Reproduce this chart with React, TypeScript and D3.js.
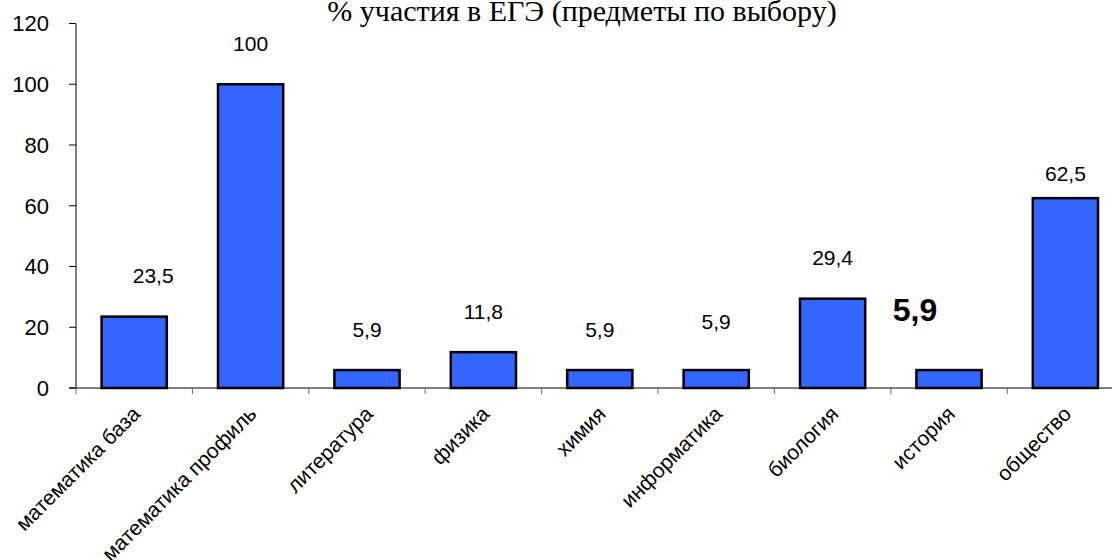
import * as d3 from "d3";

const categories = [
  "математика база",
  "математика профиль",
  "литература",
  "физика",
  "химия",
  "информатика",
  "биология",
  "история",
  "общество",
];
const values = [23.5, 100, 5.9, 11.8, 5.9, 5.9, 29.4, 5.9, 62.5];
const valueLabels = ["23,5", "100", "5,9", "11,8", "5,9", "5,9", "29,4", "5,9", "62,5"];
const yTicks = [0, 20, 40, 60, 80, 100, 120];
const title = "% участия в ЕГЭ (предметы по выбору)";

const width = 1112;
const height = 560;
const margin = { top: 23.5, left: 76, bottom: 388 };

// hand placed labels in the original: shifts away from the usual spot
const labelLift: Record<string, number> = { информатика: 8, история: 20, общество: -16 };
const labelShift: Record<string, number> = { "математика база": 19, история: -34 };

const App = () => {
  const step = 116.4;
  const xScale = d3
    .scaleBand<string>()
    .domain(categories)
    .range([margin.left, margin.left + step * categories.length])
    .paddingInner(0.44)
    .paddingOuter(0.22);
  const yScale = d3.scaleLinear().domain([0, 120]).range([margin.bottom, margin.top]);

  const font = "Arial, 'Liberation Sans', sans-serif";
  const boundaries = d3.range(categories.length + 1).map((i) => margin.left + i * xScale.step());

  return (
    <svg
      width={width}
      height={height}
      style={{ position: "absolute", left: 0, top: 0, background: "#fff" }}
    >
      <text
        x={582}
        y={21}
        textAnchor="middle"
        fontFamily="'Liberation Serif', 'Times New Roman', serif"
        fontSize={30}
      >
        {title}
      </text>

      {/* y axis */}
      <line x1={margin.left} x2={margin.left} y1={yScale(120)} y2={yScale(0)} stroke="#000" />
      {yTicks.map((t) => (
        <g key={t}>
          <line x1={margin.left - 7} x2={margin.left} y1={yScale(t)} y2={yScale(t)} stroke="#000" />
          <text
            x={49}
            y={yScale(t)}
            dy="0.36em"
            textAnchor="end"
            fontFamily={font}
            fontSize={22}
          >
            {t}
          </text>
        </g>
      ))}

      {/* bars */}
      {categories.map((c, i) => (
        <rect
          key={c}
          x={xScale(c)}
          y={yScale(values[i])}
          width={xScale.bandwidth()}
          height={yScale(0) - yScale(values[i])}
          fill="#3366FF"
          stroke="#000"
          strokeWidth={2.5}
        />
      ))}

      {/* x axis */}
      <line x1={margin.left - 7} x2={width} y1={yScale(0)} y2={yScale(0)} stroke="#000" />
      {boundaries.map((bx, i) => (
        <line key={i} x1={bx} x2={bx} y1={yScale(0)} y2={yScale(0) + 6} stroke="#666" />
      ))}

      {/* value labels */}
      {categories.map((c, i) => {
        const cx = (xScale(c) ?? 0) + xScale.bandwidth() / 2 + (labelShift[c] ?? 0);
        const bold = c === "история";
        return (
          <text
            key={c}
            x={cx}
            y={yScale(values[i]) - 41 - (labelLift[c] ?? 0)}
            dy="0.36em"
            textAnchor="middle"
            fontFamily={font}
            fontSize={bold ? 32 : 21}
            fontWeight={bold ? "bold" : "normal"}
          >
            {valueLabels[i]}
          </text>
        );
      })}

      {/* category labels */}
      {categories.map((c) => {
        const cx = (xScale(c) ?? 0) + xScale.bandwidth() / 2;
        return (
          <text
            key={c}
            transform={`translate(${cx + 2},${yScale(0) + 22}) rotate(-45)`}
            textAnchor="end"
            dy="0.35em"
            fontFamily={font}
            fontSize={21}
          >
            {c}
          </text>
        );
      })}
    </svg>
  );
};

export default App;
